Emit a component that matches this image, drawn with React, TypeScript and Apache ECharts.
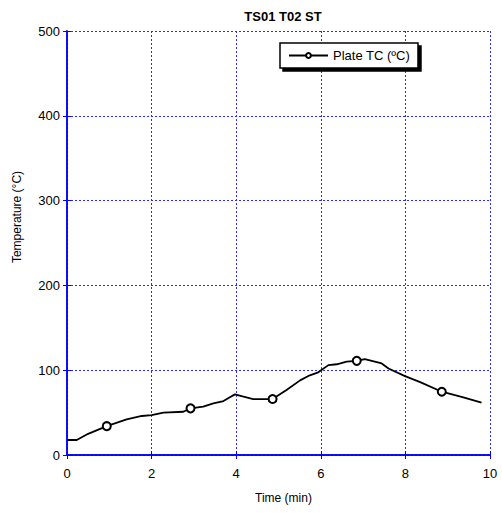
import React, { useEffect, useRef } from "react";
import * as echarts from "echarts";

const titleText = "TS01 T02 ST";
const seriesName = "Plate TC (ºC)";
const xAxisTitle = "Time (min)";
const yAxisTitle = "Temperature (°C)";

const times = [0, 0.23, 0.5, 0.94, 1.41, 1.77, 2.0, 2.28, 2.75, 2.92, 3.22, 3.46, 3.7, 3.85, 3.97, 4.15, 4.4, 4.86, 5.19, 5.51, 5.74, 5.94, 6.18, 6.38, 6.61, 6.85, 7.04, 7.44, 7.6, 7.99, 8.35, 8.86, 9.37, 9.8];
const temps = [17.7, 17.7, 25, 34, 42, 46, 47, 50, 51, 55, 57, 61, 63.6, 68, 71.5, 69, 66, 66, 76.7, 88, 94, 97.5, 106, 107, 110, 111, 113, 108, 102, 93, 86, 74.6, 68, 61.7];
const markerTimes = [0.94, 2.92, 4.86, 6.85, 8.86];

const xTicks = [0, 2, 4, 6, 8, 10];
const yTicks = [0, 100, 200, 300, 400, 500];

export default function App() {
  const ref = useRef<HTMLDivElement>(null);
  useEffect(() => {
    if (!ref.current) return;
    const chart = echarts.init(ref.current, null, { renderer: "svg" });
    const font = "Liberation Sans, Arial, sans-serif";
    const blue = "#0000ff";
    const gridLine = { show: true, lineStyle: { color: "#2a2aff", type: [2, 2] as any, width: 1 } };
    const data = times.map((t, i) => ({
      value: [t, temps[i]],
      symbol: markerTimes.includes(t) ? "emptyCircle" : "none",
    }));
    chart.setOption({
      animation: false,
      backgroundColor: "#ffffff",
      title: {
        text: titleText,
        left: 278,
        textAlign: "center",
        top: 5,
        textStyle: { fontFamily: font, fontWeight: "bold", fontSize: 13, color: "#000" },
      },
      legend: {
        left: 280,
        top: 43,
        orient: "vertical",
        backgroundColor: "#fff",
        borderColor: "#000",
        borderWidth: 1.5,
        borderRadius: 0,
        shadowColor: "#000",
        shadowBlur: 0,
        shadowOffsetX: 3,
        shadowOffsetY: 3,
        padding: [6, 8, 6, 8],
        itemWidth: 39,
        itemHeight: 6,
        itemGap: 0,
        itemStyle: { borderWidth: 1 },
        textStyle: { fontFamily: font, fontSize: 13, color: "#000" },
        data: [seriesName],
      },
      grid: { left: 67, right: 12, top: 31, bottom: 58, show: false },
      xAxis: [
        {
          type: "value",
          min: xTicks[0],
          max: xTicks[xTicks.length - 1],
          interval: 2,
          name: xAxisTitle,
          nameLocation: "middle",
          nameGap: 37,
          nameTextStyle: { fontFamily: font, fontSize: 12, color: "#000", padding: [0, 0, 0, 10] },
          axisLine: { show: true, lineStyle: { color: blue, width: 1.5 } },
          axisTick: { show: true, inside: true, length: 4, lineStyle: { color: blue } },
          axisLabel: { fontFamily: font, fontSize: 13, color: "#000", margin: 12 },
          splitLine: gridLine,
        },
        {
          type: "value",
          position: "top",
          min: 0,
          max: 10,
          interval: 2,
          axisLine: { show: true, lineStyle: { color: blue, width: 1.5 } },
          axisTick: { show: true, inside: true, length: 4, lineStyle: { color: blue } },
          axisLabel: { show: false },
          splitLine: { show: false },
        },
      ],
      yAxis: [
        {
          type: "value",
          min: yTicks[0],
          max: yTicks[yTicks.length - 1],
          interval: 100,
          axisLine: { show: true, lineStyle: { color: blue, width: 1.5 } },
          axisTick: { show: true, inside: true, length: 4, lineStyle: { color: blue } },
          axisLabel: { fontFamily: font, fontSize: 13, color: "#000", margin: 7 },
          splitLine: gridLine,
        },
        {
          type: "value",
          position: "right",
          min: 0,
          max: 500,
          interval: 100,
          axisLine: { show: true, lineStyle: { color: blue, width: 1.5 } },
          axisTick: { show: true, inside: true, length: 4, lineStyle: { color: blue } },
          axisLabel: { show: false },
          splitLine: { show: false },
        },
      ],
      graphic: [
        {
          type: "text",
          x: 17,
          y: 217,
          rotation: Math.PI / 2,
          style: {
            text: yAxisTitle,
            fontFamily: font,
            fontSize: 12,
            fill: "#000",
            align: "center",
            verticalAlign: "middle",
          },
        },
      ],
      series: [
        {
          name: seriesName,
          type: "line",
          data,
          symbol: "emptyCircle",
          symbolSize: 8,
          showSymbol: true,
          lineStyle: { color: "#000", width: 1.8 },
          itemStyle: { color: "#000", borderColor: "#000", borderWidth: 1 },
          emphasis: { disabled: true },
        },
      ],
    });
    return () => chart.dispose();
  }, []);
  return <div ref={ref} style={{ width: 502, height: 513, position: "absolute", left: 0, top: 0 }} />;
}
